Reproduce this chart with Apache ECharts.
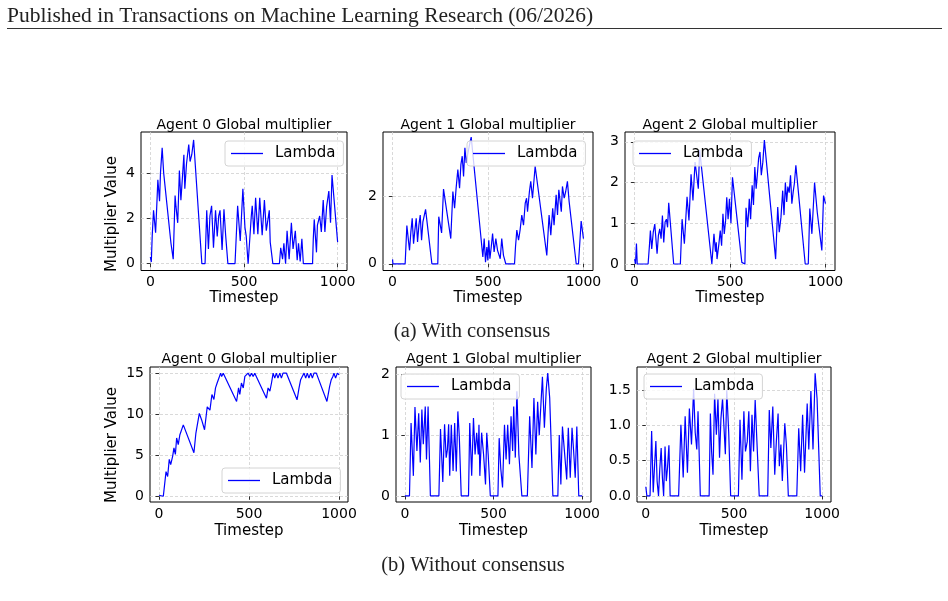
<!DOCTYPE html>
<html lang="en">
  <head>
    <meta charset="UTF-8" />
    <title>Global multiplier</title>
    <script src="https://cdn.jsdelivr.net/npm/echarts@6/dist/echarts.min.js"></script>
    <style>
      html,
      body {
        margin: 0;
        padding: 0;
        background: #fff;
      }
      #chart {
        width: 948px;
        height: 601px;
      }
    </style>
  </head>
  <body>
    <div id="chart"></div>
    <script>
      // (a) with consensus, [timestep, lambda]
      const withAgent0 = [[0,0.3],[5,0.07],[10,1.25],[17,2.35],[28,1.36],[35,2.7],[40,3.7],[49,2.75],[54,4.0],[63,5.1],[71,4.0],[110,0.9],[122,0.2],[132,3.0],[137,2.5],[146,1.8],[155,4.1],[163,2.8],[172,3.9],[179,4.8],[184,3.3],[193,4.4],[205,5.25],[212,4.5],[221,4.8],[231,5.45],[275,0],[292,0],[301,2.35],[310,0.65],[318,2.1],[327,2.55],[337,0.7],[348,2.35],[357,1.2],[365,2.1],[372,2.35],[383,0.6],[393,2.4],[402,1.25],[414,0],[452,0],[466,2.55],[480,1.0],[494,3.3],[505,1.6],[512,1.2],[522,0],[532,0],[539,2.1],[544,2.55],[553,1.3],[562,2.9],[574,1.3],[584,2.9],[597,1.25],[609,2.8],[619,1.45],[635,2.35],[640,0.95],[654,0],[689,0],[696,0.7],[706,0.2],[713,0.9],[722,0],[730,1.45],[741,0.2],[753,1.8],[762,0.65],[774,1.45],[784,0.15],[791,0.9],[800,0.1],[809,1.1],[817,0],[866,0],[870,1.1],[875,1.95],[887,0.5],[892,1.7],[904,2.1],[913,1.4],[923,2.8],[932,1.4],[941,2.5],[953,3.2],[962,1.8],[970,3.9],[1000,0.95]];
      const withAgent1 = [[0,0.13],[2,0],[66,0],[75,1.14],[84,0.65],[89,0.4],[96,0.95],[103,1.35],[110,0.6],[117,1.0],[124,1.35],[131,0.65],[138,1.15],[145,1.45],[152,0.7],[159,1.25],[173,1.62],[206,0],[237,0],[242,1.4],[257,0.92],[267,2.22],[305,0.75],[316,2.15],[325,1.65],[333,2.25],[342,2.8],[351,2.25],[358,2.95],[365,3.2],[372,2.6],[379,3.45],[386,3.0],[395,3.3],[407,3.65],[412,3.77],[473,0.2],[480,0.75],[487,0.05],[494,0.5],[499,0.1],[504,0.7],[510,0.15],[517,0.5],[524,0.9],[532,0.35],[541,0.75],[550,0.4],[564,0.15],[572,0.75],[581,0.25],[593,0],[639,0],[644,0.5],[651,1.0],[660,0.7],[668,1.0],[677,1.45],[686,1.15],[695,1.8],[702,1.95],[707,1.55],[717,2.15],[724,2.45],[733,1.95],[747,2.9],[808,0.25],[820,1.45],[829,0.85],[839,1.65],[846,1.15],[857,2.05],[864,1.45],[871,2.2],[878,1.85],[884,1.55],[890,2.3],[899,1.95],[907,2.15],[916,2.45],[925,1.85],[962,0],[974,0],[988,1.27],[1000,0.75]];
      const withAgent2 = [[0,0.12],[5,0],[10,0.5],[14,0],[71,0],[78,0.45],[83,0.82],[90,0.37],[98,0.78],[106,0.98],[118,0.25],[125,0.7],[132,0.86],[139,0.62],[146,1.19],[153,0.53],[160,1.03],[167,1.1],[173,0.9],[179,1.5],[205,0],[240,0],[249,1.1],[261,0.5],[275,1.65],[285,1.07],[296,2.2],[306,1.56],[317,2.5],[323,2.27],[334,1.85],[341,2.8],[405,0],[416,0.74],[424,0.3],[428,0.53],[432,0.12],[442,0.5],[449,0.82],[456,0.45],[463,1.23],[470,0.74],[477,1.07],[483,1.64],[490,1.1],[497,1.6],[505,1.0],[513,2.13],[562,0.04],[570,0],[578,0],[584,1.38],[593,0.9],[601,1.6],[608,1.1],[616,1.93],[623,1.45],[630,2.38],[637,1.85],[643,2.18],[650,2.6],[657,2.75],[664,2.18],[672,2.5],[680,3.04],[739,0.12],[750,1.4],[758,0.78],[767,1.15],[776,1.8],[783,1.2],[790,2.0],[797,1.52],[803,1.9],[810,1.75],[817,2.18],[824,1.48],[831,1.77],[837,1.97],[845,2.42],[894,0],[910,0],[918,1.36],[929,0.74],[943,2.0],[957,1.27],[981,0.33],[990,1.68],[1000,1.48]];

      // (b) without consensus
      const withoutAgent0 = [[0,0.12],[5,0],[24,0],[39,3.0],[48,2.4],[57,4.5],[65,3.85],[76,4.9],[83,5.9],[91,5.1],[98,7.1],[107,6.3],[116,7.5],[135,8.7],[194,5.3],[205,7.7],[213,7.5],[224,10.1],[237,9.3],[253,8.1],[268,10.9],[283,10.5],[294,12.4],[305,11.8],[314,13.2],[323,13.8],[333,14.4],[342,15],[348,14.6],[357,15],[368,15],[431,11.55],[442,13.2],[449,12.4],[458,13.8],[468,13.2],[477,14.6],[486,14.4],[495,15],[505,14.6],[514,15],[523,14.6],[532,15],[542,15],[597,11.95],[606,13.2],[616,12.8],[625,13.8],[634,15],[643,14.4],[652,15],[661,14.4],[671,15],[680,14.4],[689,15],[708,15],[767,11.75],[778,13.2],[787,14.2],[796,14.6],[806,15],[815,14.4],[824,15],[833,14.4],[843,15],[852,14.4],[861,15],[874,15],[933,11.55],[948,13.4],[957,14.2],[966,14.6],[972,15],[981,14.4],[991,15],[1000,14.8]];
      const withoutAgent1 = [[0,0],[26,0],[35,1.2],[48,0.33],[57,1.46],[68,0.74],[78,1.36],[87,0.55],[96,1.42],[104,0.85],[115,1.47],[122,0.6],[131,1.47],[144,0],[192,0],[201,1.1],[214,0.23],[224,1.18],[233,0.63],[240,0.76],[247,1.18],[253,0.33],[262,1.17],[272,0.41],[281,1.2],[290,0.4],[299,1.39],[307,0.98],[318,0],[359,0],[366,1.2],[377,0.33],[387,1.28],[396,0.68],[405,1.04],[414,0.68],[418,1.17],[423,0.33],[433,1.04],[444,0.68],[455,0.19],[462,1.04],[470,0.68],[482,0],[525,0],[532,0.95],[541,0.45],[551,0.14],[562,1.17],[571,0.6],[580,1.17],[590,0.52],[599,1.31],[608,0.74],[614,1.47],[623,0.63],[632,1.72],[643,0.68],[660,0],[691,0],[704,1.31],[717,0.46],[728,1.61],[739,0.68],[749,1.55],[758,1.0],[767,0.98],[776,1.96],[787,1.12],[798,1.77],[806,2.02],[817,1.61],[835,0],[863,0],[871,1.0],[880,0.19],[889,1.14],[900,0.74],[913,0.27],[922,1.12],[933,0.3],[943,1.12],[952,0.74],[961,0.3],[970,1.14],[981,0],[1000,0]];
      const withoutAgent2 = [[0,0.13],[6,0],[24,0],[33,0.92],[42,0.05],[50,0.45],[57,0.78],[64,0.21],[72,0],[79,0.38],[87,0.68],[94,0.26],[101,0],[109,0.7],[116,0.21],[123,0.4],[131,0.72],[138,0],[186,0],[199,1.01],[212,0.26],[223,1.13],[236,0.33],[247,1.24],[259,0.73],[271,1.52],[280,0.9],[289,0.66],[296,1.2],[309,0],[359,0],[366,1.17],[373,0.63],[381,0.3],[390,1.45],[400,0.87],[409,1.38],[418,0.54],[426,1.1],[435,1.38],[442,1.03],[451,0.59],[459,1.5],[470,0.9],[481,0],[525,0],[534,1.08],[545,0.23],[556,1.2],[565,0.63],[575,0.77],[584,1.2],[593,0.35],[602,1.15],[611,0.63],[620,1.36],[630,0.77],[643,0],[691,0],[700,1.22],[709,0.68],[720,1.27],[731,0.3],[740,0.77],[750,1.17],[757,0.42],[766,0.73],[774,0.21],[788,1.03],[797,0.73],[808,0],[856,0],[867,0.96],[878,0.35],[889,1.15],[900,0.33],[915,1.31],[924,0.66],[936,1.49],[948,0.66],[960,1.74],[971,1.38],[989,0],[1000,0]];

      const xTicks = [0, 500, 1000];
      const yTicks = [[0, 2, 4], [0, 2], [0, 1, 2, 3], [0, 5, 10, 15], [0, 1, 2], [0, 0.5, 1, 1.5]];
      const yRanges = [[-0.3, 5.8], [-0.2, 3.92], [-0.16, 3.24], [-0.7, 15.75], [-0.1, 2.12], [-0.087, 1.83]];
      const titles = ["Agent 0 Global multiplier", "Agent 1 Global multiplier", "Agent 2 Global multiplier",
        "Agent 0 Global multiplier", "Agent 1 Global multiplier", "Agent 2 Global multiplier"];
      const seriesData = [withAgent0, withAgent1, withAgent2, withoutAgent0, withoutAgent1, withoutAgent2];

      // plot frames [left, top, width, height] and legend box corners
      const frames = [
        [141, 132, 206, 138.5], [383, 132, 210, 138.5], [625, 132, 210, 138.5],
        [150, 367, 198, 135], [396, 367, 195, 135], [637, 367, 194, 135],
      ];
      const legendPos = [[225, 141], [467, 141], [633, 141], [222, 468], [401, 374], [644, 374]];

      const font = "DejaVu Sans";
      const chart = echarts.init(document.getElementById("chart"), null, { renderer: "canvas" });

      const grid = frames.map((f) => ({
        left: f[0], top: f[1], width: f[2], height: f[3],
        show: true, borderColor: "#000", borderWidth: 1, containLabel: false,
      }));

      const xAxis = frames.map((f, i) => ({
        type: "value", gridIndex: i, min: -50, max: 1050,
        name: "Timestep", nameLocation: "middle", nameGap: i < 3 ? 18 : 22,
        nameTextStyle: { fontFamily: font, fontSize: 15, color: "#000" },
        axisLine: { show: false },
        axisTick: { show: true, inside: false, length: 3.5, customValues: xTicks, lineStyle: { color: "#000", width: 0.8 } },
        axisLabel: { customValues: xTicks, margin: 5, fontFamily: font, fontSize: 14, color: "#000", formatter: (v) => String(v) },
        splitLine: { show: true, lineStyle: { color: "#cfcfcf", width: 0.8, type: [3, 2] } },
      }));

      const yAxis = frames.map((f, i) => ({
        type: "value", gridIndex: i, min: yRanges[i][0], max: yRanges[i][1],
        axisLine: { show: false },
        axisTick: { show: true, inside: false, length: 3.5, customValues: yTicks[i], lineStyle: { color: "#000", width: 0.8 } },
        axisLabel: {
          customValues: yTicks[i], margin: 6, fontFamily: font, fontSize: 14, color: "#000",
          formatter: (v) => (i === 5 ? v.toFixed(1) : String(v)),
        },
        splitLine: { show: true, lineStyle: { color: "#cfcfcf", width: 0.8, type: [3, 2] } },
      }));

      const series = seriesData.map((d, i) => ({
        name: "Lambda", type: "line", xAxisIndex: i, yAxisIndex: i,
        data: d, symbol: "none", animation: false,
        lineStyle: { color: "#0000ff", width: 1.2 },
        itemStyle: { color: "#0000ff" },
      }));

      // legend sample is a plain line, like matplotlib's
      const legend = legendPos.map((p) => ({
        data: [{ name: "Lambda", icon: "rect" }], left: p[0], top: p[1], orient: "horizontal",
        padding: [5, 8, 5, 6], itemWidth: 32, itemHeight: 1.3, selectedMode: false,
        backgroundColor: "rgba(255,255,255,0.8)", borderColor: "#d4d4d4", borderWidth: 1, borderRadius: 3,
        itemStyle: { color: "#0000ff", borderWidth: 0 },
        textStyle: { fontFamily: font, fontSize: 15, color: "#000", padding: [0, 0, 0, 7] },
      }));

      const graphic = [
        {
          type: "text", x: 7, y: 16,
          style: { text: "Published in Transactions on Machine Learning Research (06/2026)", font: '21.5px "Liberation Serif"', fill: "#222", verticalAlign: "middle" },
        },
        { type: "line", shape: { x1: 7, y1: 28.5, x2: 942, y2: 28.5 }, style: { stroke: "#333", lineWidth: 1 } },
        { type: "text", x: 472, y: 332, style: { text: "(a) With consensus", font: '20.5px "Liberation Serif"', fill: "#222", align: "center", verticalAlign: "middle" } },
        { type: "text", x: 473, y: 566, style: { text: "(b) Without consensus", font: '20.5px "Liberation Serif"', fill: "#222", align: "center", verticalAlign: "middle" } },
        { type: "text", x: 112, y: 214, rotation: Math.PI / 2, style: { text: "Multiplier Value", font: '15px "DejaVu Sans"', fill: "#000", align: "center", verticalAlign: "middle" } },
        { type: "text", x: 112, y: 445, rotation: Math.PI / 2, style: { text: "Multiplier Value", font: '15px "DejaVu Sans"', fill: "#000", align: "center", verticalAlign: "middle" } },
      ];
      frames.forEach((f, i) => {
        graphic.push({
          type: "text", x: f[0] + f[2] / 2, y: i < 3 ? 125 : 359,
          style: { text: titles[i], font: '14px "DejaVu Sans"', fill: "#000", align: "center", verticalAlign: "middle" },
        });
      });

      chart.setOption({
        backgroundColor: "#fff",
        animation: false,
        grid: grid,
        xAxis: xAxis,
        yAxis: yAxis,
        legend: legend,
        series: series,
        graphic: graphic,
      });
    </script>
  </body>
</html>
